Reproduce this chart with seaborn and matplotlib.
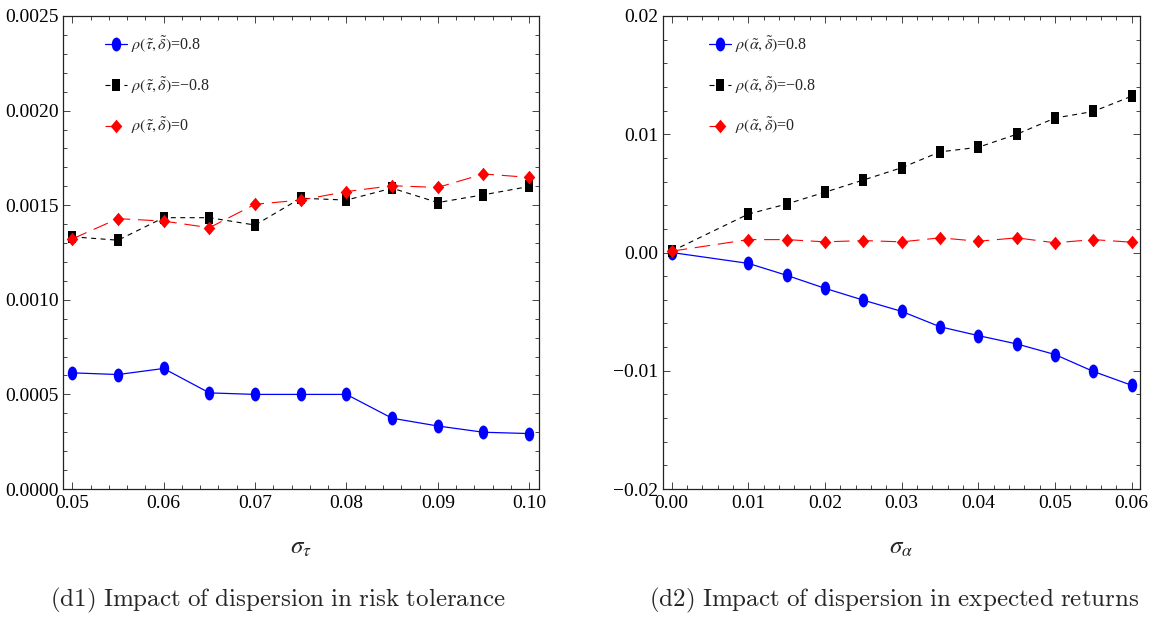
import numpy as np
import pandas as pd
import matplotlib
matplotlib.use("Agg")
import matplotlib.pyplot as plt
from matplotlib.path import Path
from matplotlib.ticker import MultipleLocator, FuncFormatter
import seaborn as sns

# ---------------- data ----------------
sigma_tau = [0.05, 0.055, 0.06, 0.065, 0.07, 0.075, 0.08, 0.085, 0.09, 0.095, 0.10]
d1_pos = [0.000614, 0.000605, 0.000637, 0.000508, 0.000500, 0.000500, 0.000500,
          0.000374, 0.000333, 0.000300, 0.000293]
d1_neg = [0.001333, 0.001315, 0.001434, 0.001434, 0.001395, 0.001537, 0.001527,
          0.001590, 0.001514, 0.001555, 0.001599]
d1_zero = [0.001322, 0.001429, 0.001416, 0.001381, 0.001505, 0.001527, 0.001572,
           0.001603, 0.001594, 0.001665, 0.001647]

sigma_alpha = [0.0, 0.01, 0.015, 0.02, 0.025, 0.03, 0.035, 0.04, 0.045, 0.05, 0.055, 0.06]
d2_pos = [0.0, -0.00092, -0.00193, -0.00303, -0.00403, -0.00498, -0.00628, -0.00703,
          -0.00773, -0.00863, -0.01006, -0.01123]
d2_neg = [0.00011, 0.00325, 0.0041, 0.0051, 0.00613, 0.00717, 0.00851, 0.0089,
          0.0100, 0.01137, 0.01193, 0.01322]
d2_zero = [0.00011, 0.00109, 0.00109, 0.0009, 0.00101, 0.0009, 0.00124, 0.00095,
           0.00124, 0.00082, 0.00109, 0.00087]

labels_d1 = [r'$\rho(\tilde{\tau},\tilde{\delta})$=0.8',
             r'$\rho(\tilde{\tau},\tilde{\delta})$=' + '\u22120.8',
             r'$\rho(\tilde{\tau},\tilde{\delta})$=0']
labels_d2 = [r'$\rho(\tilde{\alpha},\tilde{\delta})$=0.8',
             r'$\rho(\tilde{\alpha},\tilde{\delta})$=' + '\u22120.8',
             r'$\rho(\tilde{\alpha},\tilde{\delta})$=0']
captions = [r'$\mathrm{(d1)\ Impact\ of\ dispersion\ in\ risk\ tolerance}$',
            r'$\mathrm{(d2)\ Impact\ of\ dispersion\ in\ expected\ returns}$']
xlabels = [r'$\sigma_{\tau}$', r'$\sigma_{\alpha}$']

# ---------------- style ----------------
sns.set_theme(style="white")
plt.rcParams['font.family'] = ['Liberation Serif', 'DejaVu Serif']
plt.rcParams['mathtext.fontset'] = 'stix'
plt.rcParams['axes.unicode_minus'] = True


def ellipse_marker(rx):
    c = Path.unit_circle()
    return Path(c.vertices * np.array([rx, 1.0]), c.codes)


def rect_marker(w):
    v = [(-w, -1), (w, -1), (w, 1), (-w, 1), (-w, -1)]
    codes = [Path.MOVETO, Path.LINETO, Path.LINETO, Path.LINETO, Path.CLOSEPOLY]
    return Path(v, codes)


def diamond_marker(w):
    v = [(0, -1), (w, 0), (0, 1), (-w, 0), (0, -1)]
    codes = [Path.MOVETO, Path.LINETO, Path.LINETO, Path.LINETO, Path.CLOSEPOLY]
    return Path(v, codes)


styles = [
    dict(color='#0000ff', marker=ellipse_marker(0.68), markersize=10.0,
         linestyle='-', linewidth=0.9),
    dict(color='#000000', marker=rect_marker(0.68), markersize=8.6,
         linestyle=(0, (4.5, 4)), linewidth=0.8),
    dict(color='#ff0000', marker=diamond_marker(0.85), markersize=9.8,
         linestyle=(0, (14, 7)), linewidth=0.8),
]

W, H = 1155, 618
fig = plt.figure(figsize=(W / 100, H / 100), dpi=100)
ax1 = fig.add_axes([62.7 / W, 1 - 489 / H, 475.8 / W, 473 / H])
ax2 = fig.add_axes([662.7 / W, 1 - 489 / H, 477.3 / W, 473 / H])

panels = [
    (ax1, sigma_tau, [d1_pos, d1_neg, d1_zero], labels_d1),
    (ax2, sigma_alpha, [d2_pos, d2_neg, d2_zero], labels_d2),
]

for ax, xs, series, labels in panels:
    for ys, lab, st in zip(series, labels, styles):
        df = pd.DataFrame({'x': xs, 'y': ys})
        sns.lineplot(data=df, x='x', y='y', ax=ax, label=lab,
                     markeredgewidth=0, estimator=None, sort=False, **st)

# axes limits / ticks
ax1.set_xlim(0.04895, 0.10102)
ax1.set_ylim(0.0, 0.0025)
ax1.xaxis.set_major_locator(MultipleLocator(0.01))
ax1.xaxis.set_minor_locator(MultipleLocator(0.002))
ax1.yaxis.set_major_locator(MultipleLocator(0.0005))
ax1.yaxis.set_minor_locator(MultipleLocator(0.0001))
ax1.xaxis.set_major_formatter(FuncFormatter(lambda v, p: f"{v:.2f}"))
ax1.yaxis.set_major_formatter(FuncFormatter(lambda v, p: f"{v:.4f}"))

ax2.set_xlim(-0.00117, 0.06108)
ax2.set_ylim(-0.02, 0.02)
ax2.xaxis.set_major_locator(MultipleLocator(0.01))
ax2.xaxis.set_minor_locator(MultipleLocator(0.002))
ax2.yaxis.set_major_locator(MultipleLocator(0.01))
ax2.yaxis.set_minor_locator(MultipleLocator(0.002))


def fmt2(v, p):
    s = f"{v:.2f}"
    if s == "-0.00":
        s = "0.00"
    return s.replace('-', '\u2212')


ax2.xaxis.set_major_formatter(FuncFormatter(fmt2))
ax2.yaxis.set_major_formatter(FuncFormatter(fmt2))

for i, ax in enumerate([ax1, ax2]):
    for sp in ax.spines.values():
        sp.set_color('#222222')
        sp.set_linewidth(0.9)
    ax.tick_params(which='both', direction='in', top=True, right=True,
                   bottom=True, left=True, color='#444444', width=0.7)
    ax.tick_params(which='major', length=5, labelsize=14, pad=3, labelcolor='black')
    ax.tick_params(axis='x', which='major', pad=4)
    ax.tick_params(which='minor', length=3)
    ax.set_ylabel('')
    ax.set_xlabel(xlabels[i], fontsize=18, labelpad=18)
    ax.grid(False)

leg_x = [0.089, 0.097]
for ax, lx in zip([ax1, ax2], leg_x):
    ax.legend(loc='upper left', bbox_to_anchor=(lx, 0.962), frameon=False,
              borderaxespad=0, borderpad=0, handlelength=1.35,
              handletextpad=0.25, labelspacing=1.25,
              prop=dict(family='Liberation Serif', size=11.5, math_fontfamily='stix'))

fig.text(278 / W, 1 - 600 / H, captions[0], ha='center', va='center',
         fontsize=18, math_fontfamily='cm')
fig.text(894 / W, 1 - 600 / H, captions[1], ha='center', va='center',
         fontsize=18, math_fontfamily='cm')

fig.savefig('out.png', dpi=100)
